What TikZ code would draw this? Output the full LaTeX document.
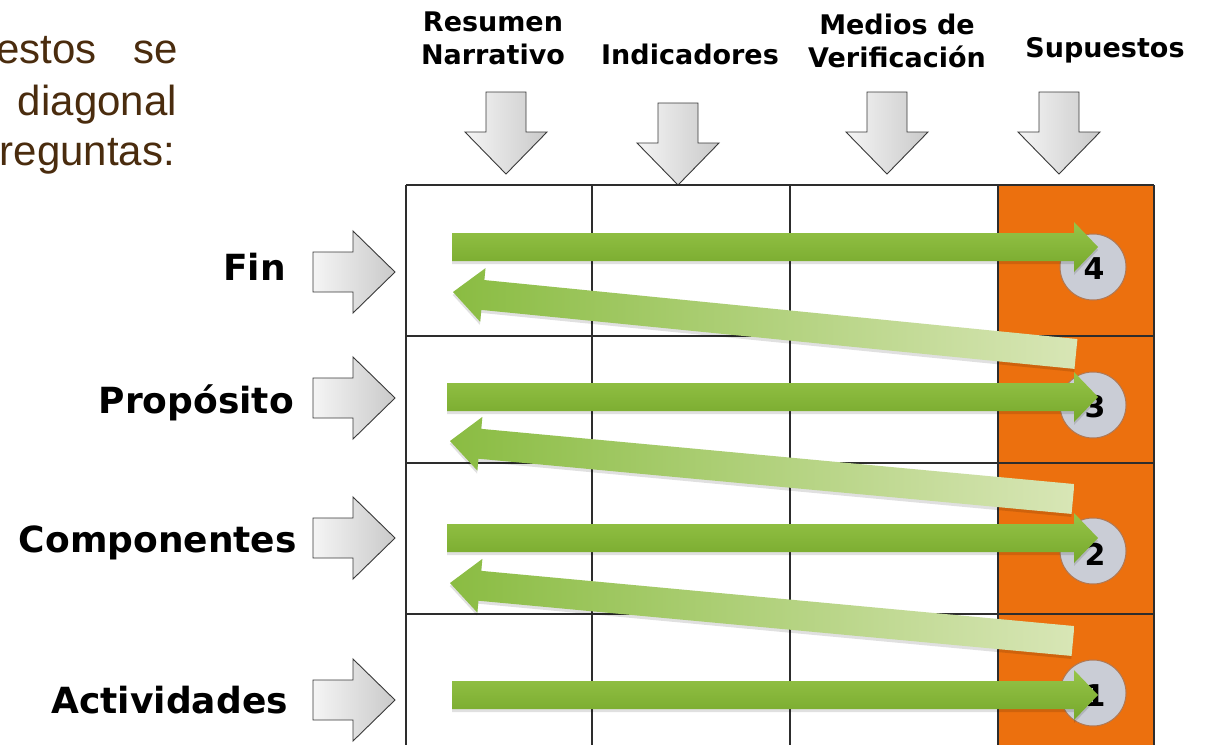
\documentclass[tikz,border=0pt]{standalone}
\usepackage{fontspec}
\setmainfont{Liberation Sans}
\newfontfamily\vfont{DejaVu Sans}
\definecolor{txtbrown}{RGB}{74,44,14}
\definecolor{orng}{RGB}{236,112,14}
\definecolor{gline}{RGB}{45,45,45}
\definecolor{circfill}{RGB}{202,205,214}
\definecolor{circedge}{RGB}{175,120,85}
\definecolor{grnA}{RGB}{150,196,72}
\definecolor{grnB}{RGB}{118,168,44}
\definecolor{grnL}{RGB}{138,188,66}
\definecolor{grnP}{RGB}{216,230,182}
\tikzset{
  hdr/.style={inner sep=0pt, anchor=base, font=\vfont\bfseries\fontsize{27}{30}\selectfont},
  rowlbl/.style={inner sep=0pt, anchor=base east, font=\vfont\bfseries\fontsize{36}{40}\selectfont},
  lefttxt/.style={inner sep=0pt, anchor=base east, text=txtbrown, font=\fontsize{42}{48}\selectfont},
  grayfill/.style={left color=gray!8, right color=gray!42, draw=gray!45!black, line width=0.9pt, line join=miter},
  garrow/.pic={\path[grayfill] (0,-20) -- (40,-20) -- (40,-41) -- (82,0) -- (40,41) -- (40,20) -- (0,20) -- cycle;},
  grid/.style={draw=gline, line width=1.6pt},
  circ/.style={circle, minimum size=66pt, inner sep=0pt, fill=circfill, draw=circedge, line width=1pt},
  num/.style={inner sep=0pt, font=\vfont\bfseries\fontsize{30}{32}\selectfont},
  greenR/.style={top color=grnA, bottom color=grnB},
  greenD/.style={left color=grnL, right color=grnP},
  gshadow/.style={fill=black, opacity=0.12}
}
\newcommand\rightarrowgreen[3]{% start x, tip x, center y
  \path[gshadow] (#1,#3-11) -- (#2-24,#3-11) -- (#2-24,#3-22) -- (#2,#3+3) -- (#2-24,#3+28) -- (#2-24,#3+17) -- (#1,#3+17) -- cycle;
  \path[greenR] (#1,#3-14) -- (#2-24,#3-14) -- (#2-24,#3-25) -- (#2,#3) -- (#2-24,#3+25) -- (#2-24,#3+14) -- (#1,#3+14) -- cycle;
}
\newcommand\diagarrow[4]{% tip x, tip y, tail x, tail y
  \begin{scope}[shift={(#1,#2)}, rotate={atan2(-(#4-#2),#3-#1)}]
    \path[gshadow] (0,3) -- (30,-24) -- (30,-12) -- ({veclen(#3-#1,#4-#2)},-12) -- ({veclen(#3-#1,#4-#2)},18) -- (30,18) -- (30,30) -- cycle;
    \path[greenD] (0,0) -- (30,-27) -- (30,-15) -- ({veclen(#3-#1,#4-#2)},-15) -- ({veclen(#3-#1,#4-#2)},15) -- (30,15) -- (30,27) -- cycle;
  \end{scope}
}
\begin{document}
\begin{tikzpicture}[x=1pt, y=-1pt]
\useasboundingbox (0,0) rectangle (1206,744);
\clip (0,0) rectangle (1206,744);
\fill[white] (0,0) rectangle (1206,744);

% left intro text
\node[lefttxt] (t1a) at (97,63) {estos};
\node[lefttxt] (t1b) at (178,63) {se};
\node[lefttxt] (t2) at (177,115) {diagonal};
\node[lefttxt] (t3) at (175,165) {reguntas:};

% headers
\node[hdr] (h1a) at (493,31) {Resumen};
\node[hdr] (h1b) at (493,64) {Narrativo};
\node[hdr] (h2) at (690,64) {Indicadores};
\node[hdr] (h3a) at (897,34) {Medios de};
\node[hdr] (h3b) at (897,67) {Verificación};
\node[hdr] (h4) at (1105,57) {Supuestos};

% down arrows
\pic[rotate=-90] (dA) at (506,92) {garrow};
\pic[rotate=-90] (dB) at (678,103) {garrow};
\pic[rotate=-90] (dC) at (887,92) {garrow};
\pic[rotate=-90] (dD) at (1059,92) {garrow};

% row labels
\node[rowlbl] (r1) at (286,280) {Fin};
\node[rowlbl] (r2) at (294,413) {Propósito};
\node[rowlbl] (r3) at (297,552) {Componentes};
\node[rowlbl] (r4) at (288,713) {Actividades};

% right gray arrows
\pic (aF) at (313,272) {garrow};
\pic (aP) at (313,398) {garrow};
\pic (aC) at (313,538) {garrow};
\pic (aA) at (313,700) {garrow};

% table
\fill[orng] (998,185) rectangle (1154,760);
\foreach \yy in {185,336,463,614} \draw[grid] (406,\yy) -- (1154,\yy);
\foreach \xx in {406,592,790,998,1154} \draw[grid] (\xx,185) -- (\xx,760);

% circles with numbers
\node[circ] (c4) at (1093,267) {};
\node[circ] (c3) at (1093,405) {};
\node[circ] (c2) at (1093,551) {};
\node[circ] (c1) at (1093,693) {};
\node[num] (n4) at (1094,269) {4};
\node[num] (n3) at (1095,407) {3};
\node[num] (n2) at (1095,554) {2};
\node[num] (n1) at (1095,696) {1};

% diagonal (return) arrows
\diagarrow{453}{292}{1076}{354}
\diagarrow{450}{441}{1073}{499}
\diagarrow{450}{583}{1073}{641}

% horizontal green arrows
\rightarrowgreen{452}{1098}{247}
\rightarrowgreen{447}{1098}{397}
\rightarrowgreen{447}{1098}{538}
\rightarrowgreen{452}{1098}{695}
\end{tikzpicture}
\end{document}
